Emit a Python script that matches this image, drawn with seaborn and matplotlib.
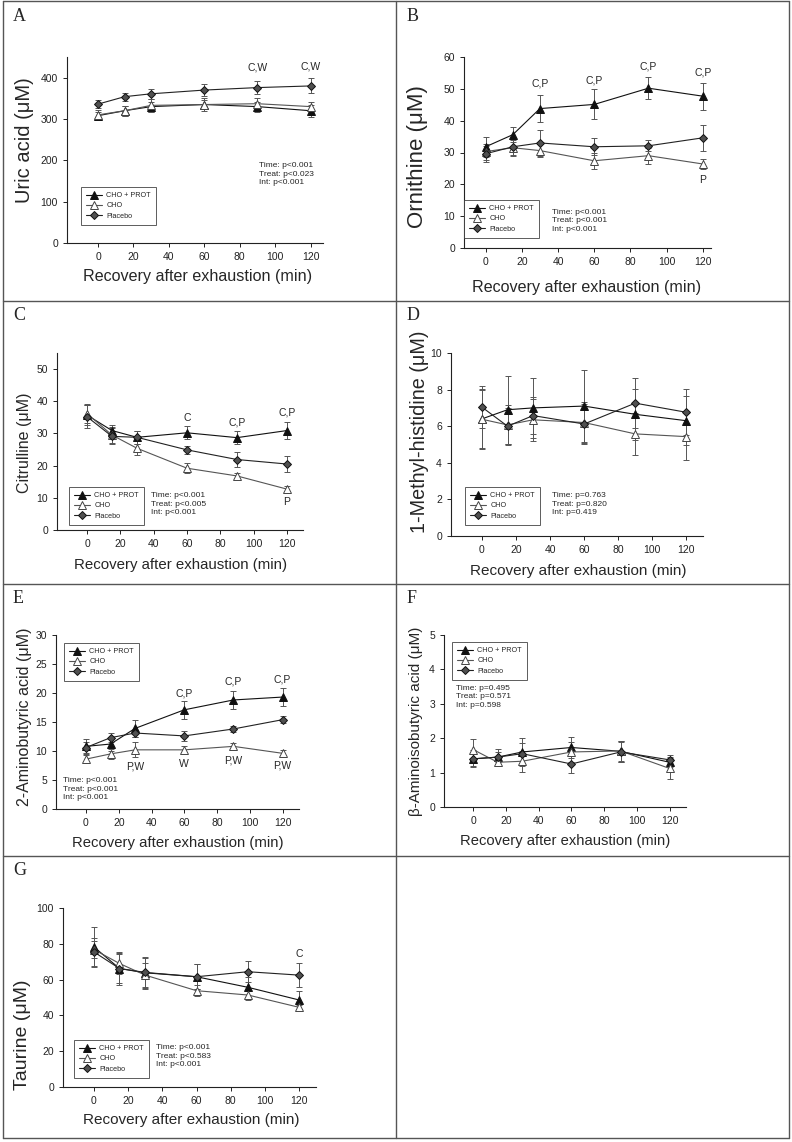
import matplotlib
matplotlib.use("Agg")
import matplotlib.pyplot as plt
from matplotlib.lines import Line2D
import numpy as np
import pandas as pd
import seaborn as sns

W, H = 792, 1142

times = [0, 15, 30, 60, 90, 120]
groups = ["CHO + PROT", "CHO", "Placebo"]

# panel A - uric acid
uric_prot = [308, 320, 330, 335, 330, 320]
uric_cho = [310, 320, 333, 335, 337, 330]
uric_plac = [336, 354, 361, 370, 376, 380]
uric_prot_se = [10, 12, 12, 15, 12, 15]
uric_cho_se = [12, 12, 15, 12, 13, 12]
uric_plac_se = [10, 10, 12, 15, 16, 18]

# panel B - ornithine
orn_prot = [31.8, 35.6, 43.8, 45.1, 50.2, 47.7]
orn_cho = [30.3, 31.5, 30.6, 27.4, 29.0, 26.4]
orn_plac = [29.6, 31.8, 33.0, 31.8, 32.1, 34.6]
orn_prot_se = [3.2, 2.3, 4.3, 4.7, 3.4, 4.2]
orn_cho_se = [2.5, 2.5, 2.0, 2.5, 2.5, 1.7]
orn_plac_se = [2.5, 2.5, 4.2, 2.7, 1.7, 4.0]

# panel C - citrulline
cit_prot = [35.7, 30.9, 28.8, 30.2, 28.7, 30.9]
cit_cho = [36.2, 29.5, 25.4, 19.2, 16.8, 12.7]
cit_plac = [35.2, 29.1, 28.8, 24.9, 21.9, 20.5]
cit_prot_se = [3.0, 1.6, 2.0, 2.0, 2.0, 2.7]
cit_cho_se = [3.0, 2.5, 2.1, 1.5, 1.0, 1.0]
cit_plac_se = [3.5, 2.5, 2.0, 1.2, 2.4, 2.5]

# panel D - 1-methyl-histidine
meh_prot = [6.4, 6.9, 7.0, 7.1, 6.65, 6.3]
meh_cho = [6.38, 6.07, 6.35, 6.2, 5.58, 5.43]
meh_plac = [7.04, 6.0, 6.58, 6.12, 7.26, 6.76]
meh_prot_se = [1.6, 1.85, 1.65, 1.95, 1.4, 1.35]
meh_cho_se = [1.65, 1.1, 1.15, 1.1, 1.15, 1.3]
meh_plac_se = [1.15, 1.0, 1.0, 1.1, 1.35, 1.25]

# panel E - 2-aminobutyric acid
aba_prot = [10.8, 11.2, 13.9, 17.1, 18.8, 19.3]
aba_cho = [8.6, 9.5, 10.2, 10.2, 10.8, 9.6]
aba_plac = [10.6, 12.3, 13.1, 12.6, 13.8, 15.4]
aba_prot_se = [1.3, 1.2, 1.5, 1.5, 1.6, 1.6]
aba_cho_se = [0.7, 0.8, 1.3, 0.6, 0.5, 0.6]
aba_plac_se = [1.0, 0.8, 0.6, 0.8, 0.5, 0.6]

# panel F - beta-aminoisobutyric acid
bai_prot = [1.4, 1.45, 1.6, 1.73, 1.62, 1.3]
bai_cho = [1.67, 1.3, 1.33, 1.6, 1.63, 1.12]
bai_plac = [1.4, 1.45, 1.55, 1.25, 1.6, 1.37]
bai_prot_se = [0.2, 0.25, 0.4, 0.3, 0.3, 0.15]
bai_cho_se = [0.3, 0.12, 0.3, 0.3, 0.3, 0.3]
bai_plac_se = [0.25, 0.15, 0.3, 0.25, 0.3, 0.15]

# panel G - taurine
tau_prot = [78.3, 66.2, 63.8, 61.6, 55.7, 48.6]
tau_cho = [76.8, 69.0, 62.5, 53.8, 51.4, 44.5]
tau_plac = [75.5, 66.2, 64.0, 61.6, 64.4, 62.5]
tau_prot_se = [11, 9, 9, 7, 6, 5]
tau_cho_se = [5, 6, 7, 3, 3, 1.5]
tau_plac_se = [8, 8, 8, 7, 6, 6.5]

sns.set_style("ticks")
plt.rcParams['font.family'] = ['Liberation Sans', 'DejaVu Sans']

fig = plt.figure(figsize=(W / 100, H / 100), dpi=100)


def box(l, r, t, b):
    return [l / W, 1 - b / H, (r - l) / W, (b - t) / H]


styles = {
    "CHO + PROT": dict(marker="^", color="#111111", markerfacecolor="#111111",
                       markeredgecolor="#111111", markersize=5.3),
    "CHO": dict(marker="^", color="#555555", markerfacecolor="white",
                markeredgecolor="#444444", markersize=5.3),
    "Placebo": dict(marker="D", color="#222222", markerfacecolor="#505050",
                    markeredgecolor="#111111", markersize=4.4),
}


def panel(pos, means, errs, ylim, yticks, xlim, ylabel, ylab, xlab, stats,
          stats_xy, leg_px, notes):
    ax = fig.add_axes(box(*pos))
    handles = []
    for g, m, e in zip(groups, means, errs):
        df = pd.DataFrame({"time": times, "value": m})
        ax.errorbar(times, m, yerr=e, fmt="none", ecolor="#555555",
                    elinewidth=0.7, capsize=2.3, capthick=0.7, zorder=2)
        sns.lineplot(data=df, x="time", y="value", ax=ax, linewidth=0.8,
                     markeredgewidth=0.7, zorder=3, **styles[g])
        handles.append(Line2D([], [], linewidth=0.8, markeredgewidth=0.7,
                              label=g, **styles[g]))
    ax.set_xlim(*xlim)
    ax.set_ylim(*ylim)
    ax.set_xticks([0, 20, 40, 60, 80, 100, 120])
    ax.set_yticks(yticks)
    # label size and centre (px)
    ax.set_xlabel("Recovery after exhaustion (min)", fontsize=xlab[0])
    ax.set_ylabel(ylabel, fontsize=ylab[0])
    ax.xaxis.set_label_coords(xlab[1] / W, 1 - xlab[2] / H, transform=fig.transFigure)
    ax.yaxis.set_label_coords(ylab[1] / W, 1 - ylab[2] / H, transform=fig.transFigure)
    ax.xaxis.label.set_va("center")
    ax.yaxis.label.set_va("center")
    ax.tick_params(direction="out", length=3, width=0.7, labelsize=7.5, colors="#222222")
    for s in ["left", "bottom"]:
        ax.spines[s].set_linewidth(0.8)
        ax.spines[s].set_color("#222222")
    sns.despine(ax=ax)
    ax.text(stats_xy[0], stats_xy[1], stats, fontsize=6.0, va="top", ha="left",
            linespacing=1.3)
    for x, y, t in notes:
        ax.text(x, y, t, fontsize=7.5, ha="center", va="center")
    leg = ax.legend(handles=handles, loc="upper left",
                    bbox_to_anchor=(leg_px[0] / W, 1 - leg_px[1] / H),
                    bbox_transform=fig.transFigure, borderaxespad=0,
                    fontsize=5.2, frameon=True, fancybox=False, handlelength=2.2,
                    handletextpad=0.6, borderpad=0.7, labelspacing=0.45)
    leg.get_frame().set_edgecolor("#333333")
    leg.get_frame().set_linewidth(0.7)
    return ax


panel((67, 323, 57, 243), [uric_prot, uric_cho, uric_plac],
      [uric_prot_se, uric_cho_se, uric_plac_se], (0, 450), [0, 100, 200, 300, 400],
      (-17.5, 127), "Uric acid (\u03bcM)", (14.5, 25, 140), (11.6, 198, 276),
      "Time: p<0.001\nTreat: p<0.023\nInt: p<0.001", (91, 195), (81, 187),
      [(90, 424, "C,W"), (120, 428, "C,W")])

panel((464, 711, 57, 248), [orn_prot, orn_cho, orn_plac],
      [orn_prot_se, orn_cho_se, orn_plac_se], (0, 60), [0, 10, 20, 30, 40, 50, 60],
      (-12, 124.6), "Ornithine (\u03bcM)", (16, 417, 157), (11.6, 587, 287),
      "Time: p<0.001\nTreat: p<0.001\nInt: p<0.001", (36.5, 12.3), (464, 200),
      [(30, 51.6, "C,P"), (60, 52.7, "C,P"), (90, 56.9, "C,P"), (120, 55.0, "C,P"),
       (120, 21.4, "P")])

panel((57, 303, 353, 530), [cit_prot, cit_cho, cit_plac],
      [cit_prot_se, cit_cho_se, cit_plac_se], (0, 55), [0, 10, 20, 30, 40, 50],
      (-18, 129.6), "Citrulline (\u03bcM)", (11.5, 25, 443), (10.8, 181, 565),
      "Time: p<0.001\nTreat: p<0.005\nInt: p<0.001", (38.6, 11.8), (69, 487),
      [(60, 34.7, "C"), (90, 33.3, "C,P"), (120, 36.5, "C,P"), (120, 8.6, "P")])

panel((451, 703, 353, 536), [meh_prot, meh_cho, meh_plac],
      [meh_prot_se, meh_cho_se, meh_plac_se], (0, 10), [0, 2, 4, 6, 8, 10],
      (-18.2, 129.8), "1-Methyl-histidine (\u03bcM)", (14.2, 419, 432), (11.0, 578, 571),
      "Time: p=0.763\nTreat: p=0.820\nInt: p=0.419", (41, 2.4), (465, 487), [])

panel((56, 299, 635, 809), [aba_prot, aba_cho, aba_plac],
      [aba_prot_se, aba_cho_se, aba_plac_se], (0, 30), [0, 5, 10, 15, 20, 25, 30],
      (-18.3, 130), "2-Aminobutyric acid (\u03bcM)", (11.5, 25, 717), (10.7, 178, 843),
      "Time: p<0.001\nTreat: p<0.001\nInt: p<0.001", (-13.8, 5.5), (64, 643),
      [(60, 20.0, "C,P"), (90, 22.0, "C,P"), (120, 22.4, "C,P"), (30, 7.3, "P,W"),
       (60, 7.8, "W"), (90, 8.4, "P,W"), (120, 7.5, "P,W")])

panel((444, 686, 635, 807), [bai_prot, bai_cho, bai_plac],
      [bai_prot_se, bai_cho_se, bai_plac_se], (0, 5), [0, 1, 2, 3, 4, 5],
      (-17.8, 130), "\u03b2-Aminoisobutyric acid (\u03bcM)", (11.0, 416, 721),
      (10.6, 565, 841),
      "Time: p=0.495\nTreat: p=0.571\nInt: p=0.598", (-10.6, 3.55), (452, 642), [])

panel((63, 316, 908, 1087), [tau_prot, tau_cho, tau_plac],
      [tau_prot_se, tau_cho_se, tau_plac_se], (0, 100), [0, 20, 40, 60, 80, 100],
      (-18, 129.8), "Taurine (\u03bcM)", (14.0, 23, 1035), (11.0, 191, 1120),
      "Time: p<0.001\nTreat: p<0.583\nInt: p<0.001", (36.5, 24.0), (74, 1040),
      [(120, 74.2, "C")])

# panel frame grid
gc = "#555555"
for x in [3, 396, 789]:
    fig.add_artist(Line2D([x / W, x / W], [1 - 1138 / H, 1 - 1 / H], color=gc, lw=1.0))
for y in [1, 301, 584, 856, 1138]:
    fig.add_artist(Line2D([3 / W, 789 / W], [1 - y / H, 1 - y / H], color=gc, lw=1.0))

letters = [("A", 13, 8), ("B", 407, 8), ("C", 13, 307), ("D", 407, 307),
           ("E", 13, 590), ("F", 407, 590), ("G", 13, 862)]
for t, x, y in letters:
    fig.text(x / W, 1 - y / H, t, fontsize=13, va="top", ha="left",
             family=["Liberation Serif", "DejaVu Serif"])

fig.savefig("out.png", dpi=100)
